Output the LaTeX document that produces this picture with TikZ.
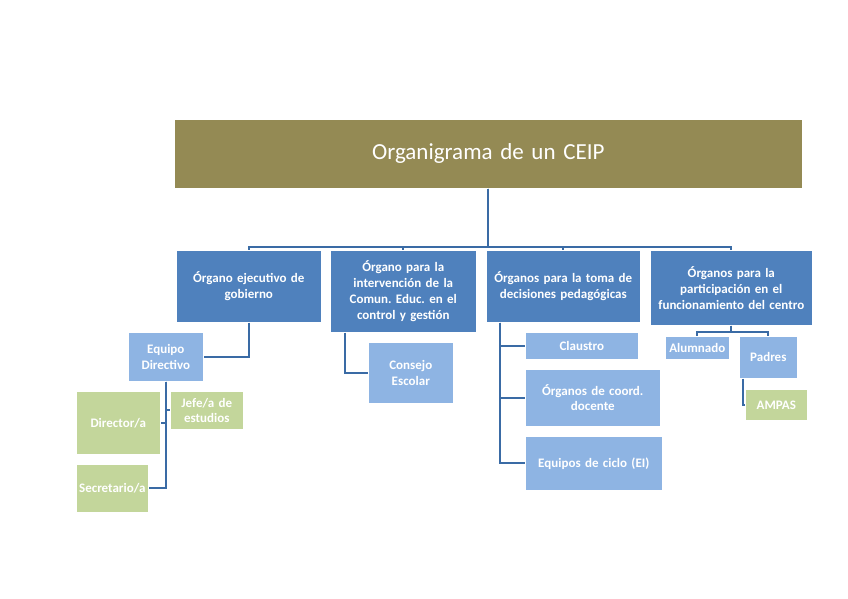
\documentclass[tikz,border=0pt]{standalone}
\usepackage{fontspec}
\setmainfont{Carlito}
\frenchspacing
\definecolor{olivebox}{HTML}{948A54}
\definecolor{darkbox}{HTML}{4F81BD}
\definecolor{lightbox}{HTML}{8EB4E3}
\definecolor{greenbox}{HTML}{C3D69B}
\definecolor{linkblue}{HTML}{3A6BA5}
\begin{document}
\begin{tikzpicture}[
        x=1pt, y=-1pt,
        box/.style={draw=white, line width=0.6pt, anchor=north west, inner xsep=0pt, inner ysep=0pt, align=center, text=white},
        titlebox/.style={box, fill=olivebox, font=\fontsize{23}{27}\selectfont},
        organo/.style={box, fill=darkbox, font=\fontsize{13}{16}\selectfont\bfseries},
        sub/.style={box, fill=lightbox, font=\fontsize{13}{15.5}\selectfont\bfseries},
        leaf/.style={box, fill=greenbox, font=\fontsize{13}{15.5}\selectfont\bfseries},
        link/.style={linkblue, line width=2pt}
    ]
        \useasboundingbox (0,0) rectangle (848,599);

        % Title of the chart
        \node[titlebox, text width=628, minimum height=69] (title) at (174,119) {Organigrama de un CEIP};

        % First level: the four kinds of organs
        \foreach \name/\x/\w/\h/\label in {
            organo-ejec/176/145/72/{Órgano ejecutivo de\\gobierno},
            organo-comun/330/146/82/{Órgano para la\\intervención de la\\Comun. Educ. en el\\control y gestión},
            organo-pedag/486/154/72/{Órganos para la toma de\\decisiones pedagógicas},
            organo-partic/650/162/75/{Órganos para la\\participación en el\\funcionamiento del centro}
        } {
            \node[organo, text width=\w, minimum height=\h] (\name) at (\x,250) {\label};
            \draw[link] (title.south) -- ++(0,58) -| (\name.north);
        }

        % Second level
        \foreach \name/\x/\y/\w/\h/\label in {
            equipo/128/332/75/49/{Equipo\\Directivo},
            consejo/368/342/85/61/{Consejo\\Escolar},
            claustro/525/332/113/27/{Claustro},
            coord/525/369/135/57/{Órganos de coord.\\docente},
            ciclo/525/436/137/54/{Equipos de ciclo (EI)},
            alumnado/665/336/64/23/{Alumnado},
            padres/739/336/58/42/{Padres}
        } {
            \node[sub, text width=\w, minimum height=\h] (\name) at (\x,\y) {\label};
        }

        % Third level
        \foreach \name/\x/\y/\w/\h/\label in {
            director/76/391/84/63/{Director/a},
            jefe/170/391/73/38/{Jefe/a de\\estudios},
            secretario/76/464/72/48/{Secretario/a},
            ampas/745/389/62/31/{AMPAS}
        } {
            \node[leaf, text width=\w, minimum height=\h] (\name) at (\x,\y) {\label};
        }

        % Connectors
        \draw[link] (organo-ejec.south) |- (equipo.east);
        \draw[link] (organo-comun.south west) ++(15,0) |- (consejo.west);
        \foreach \child in {claustro, coord, ciclo}
            \draw[link] (organo-pedag.south west) ++(14,0) |- (\child.west);
        \draw[link] (equipo.south) |- (secretario.east);
        \draw[link] (equipo.south) |- (director.east);
        \draw[link] (equipo.south) |- (jefe.west);
        \foreach \child in {alumnado, padres}
            \draw[link] (organo-partic.south) -- ++(0,6) -| (\child.north);
        \draw[link] (padres.south west) ++(4,0) |- (ampas.west);
    \end{tikzpicture}
\end{document}
